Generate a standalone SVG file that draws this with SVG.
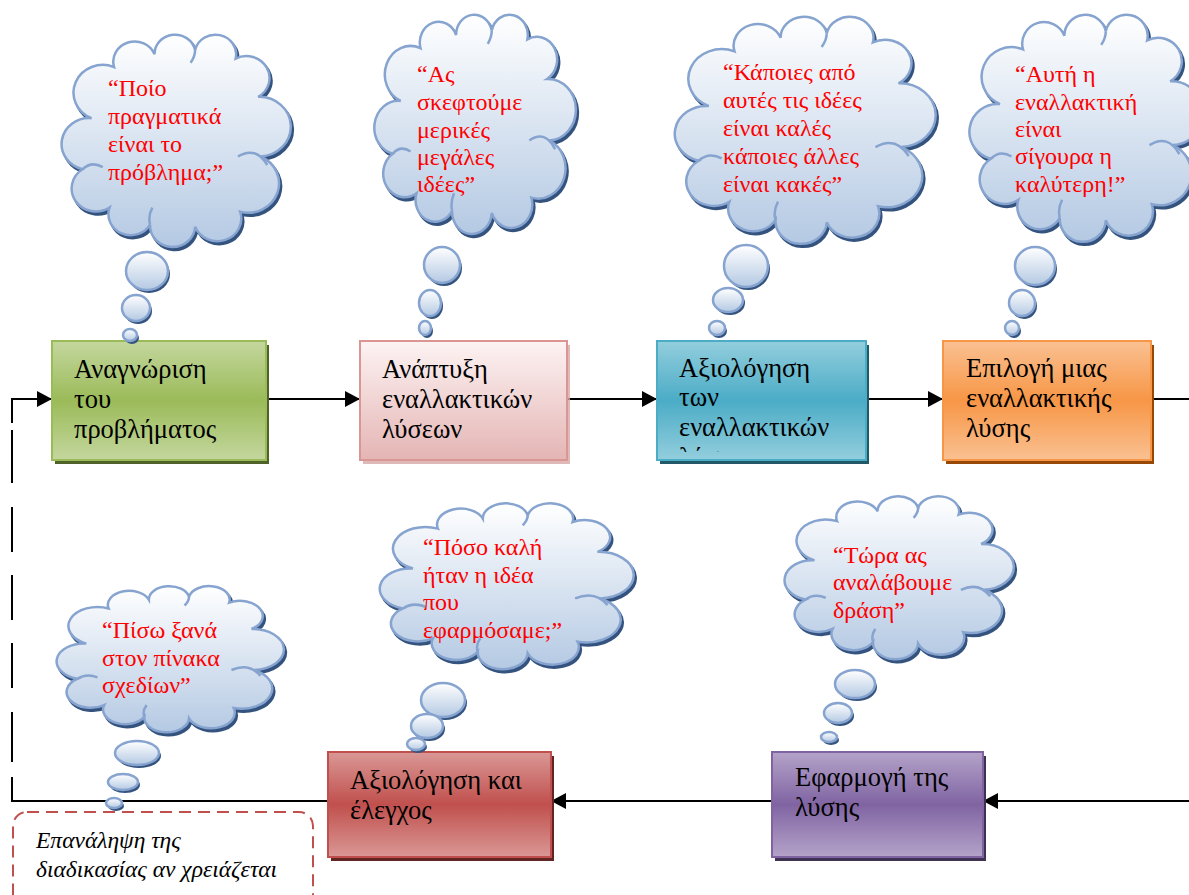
<svg xmlns="http://www.w3.org/2000/svg" xmlns:xlink="http://www.w3.org/1999/xlink" width="1189" height="895" viewBox="0 0 1189 895">
  <style>
    .box-text { font-family: "Liberation Serif", "DejaVu Serif", serif; font-size: 26.5px; fill: #000000; }
    .thought { font-family: "Liberation Serif", "DejaVu Serif", serif; font-size: 24px; fill: #ff0000; }
    .note { font-family: "Liberation Serif", "DejaVu Serif", serif; font-size: 23.5px; font-style: italic; fill: #000000; }
    .cloud-body { fill: url(#cloudFill); stroke: #86a4cf; stroke-width: 2.5; }
    .cloud-shadow { fill: #34537f; stroke: #34537f; stroke-width: 2.5; }
    .cloud-line { fill: none; stroke: #86a4cf; stroke-width: 2.5; }
    .bubble { fill: url(#cloudFill); stroke: #86a4cf; stroke-width: 2.5; }
    .bubble-shadow { fill: #34537f; }
    .link { fill: none; stroke: #000000; stroke-width: 2; }
  </style>
  <defs>
    <linearGradient id="cloudFill" x1="0" y1="0" x2="0" y2="1">
      <stop offset="0" stop-color="#ffffff"/>
      <stop offset="1" stop-color="#b4c9e3"/>
    </linearGradient>
    <linearGradient id="gGreen" x1="0" y1="0" x2="0" y2="1">
      <stop offset="0" stop-color="#c4d79e"/>
      <stop offset="0.5" stop-color="#9bbb59"/>
      <stop offset="1" stop-color="#c4d79e"/>
    </linearGradient>
    <linearGradient id="gPink" x1="0" y1="0" x2="0" y2="1">
      <stop offset="0" stop-color="#fdf3f3"/>
      <stop offset="1" stop-color="#e4b5b4"/>
    </linearGradient>
    <linearGradient id="gBlue" x1="0" y1="0" x2="0" y2="1">
      <stop offset="0" stop-color="#93cedd"/>
      <stop offset="0.5" stop-color="#4bacc6"/>
      <stop offset="1" stop-color="#93cedd"/>
    </linearGradient>
    <linearGradient id="gOrange" x1="0" y1="0" x2="0" y2="1">
      <stop offset="0" stop-color="#fac192"/>
      <stop offset="0.5" stop-color="#f79646"/>
      <stop offset="1" stop-color="#fac192"/>
    </linearGradient>
    <linearGradient id="gRed" x1="0" y1="0" x2="0" y2="1">
      <stop offset="0" stop-color="#da9896"/>
      <stop offset="0.5" stop-color="#c0504d"/>
      <stop offset="1" stop-color="#da9896"/>
    </linearGradient>
    <linearGradient id="gPurple" x1="0" y1="0" x2="0" y2="1">
      <stop offset="0" stop-color="#b4a3c9"/>
      <stop offset="0.5" stop-color="#8064a2"/>
      <stop offset="1" stop-color="#b4a3c9"/>
    </linearGradient>
    <!-- cloud outline in a unit box, scaled per callout -->
    <path id="cloudShape" vector-effect="non-scaling-stroke" d="M12,40 A13,13 0 0 1 22,16 A9.5,9.5 0 0 1 40,10 A9.1,9.1 0 0 1 58,8 A9.2,9.2 0 0 1 76,12 A10.3,10.3 0 0 1 86,30 A14,14 0 0 1 87,58 A13.8,13.8 0 0 1 78,84 A10.6,10.6 0 0 1 58,91 A10,10 0 0 1 38,90 A9.9,9.9 0 0 1 20,82 A10.8,10.8 0 0 1 8,64 A12.2,12.2 0 0 1 12,40 Z"/>
    <path id="cloudInner" vector-effect="non-scaling-stroke" d="M8,64 Q12,60 17,63 M77,58 Q85,53 90,62 M38,90 Q37,86 39,82 M58,8 Q58,11 56,14"/>
    <marker id="arrow" markerUnits="userSpaceOnUse" markerWidth="16" markerHeight="16" refX="15" refY="8" orient="auto" viewBox="0 0 16 16">
      <path d="M0,0 L15,8 L0,16 Z" fill="#000000"/>
    </marker>
    <clipPath id="clipBlue">
      <rect x="657" y="341" width="209" height="111"/>
    </clipPath>
  </defs>

  <rect width="1189" height="895" fill="#ffffff"/>

  <!-- connectors -->
  <g id="connectors">
    <path class="link" d="M266,399 H360" marker-end="url(#arrow)"/>
    <path class="link" d="M567,399 H657" marker-end="url(#arrow)"/>
    <path class="link" d="M866,399 H943" marker-end="url(#arrow)"/>
    <path class="link" d="M1151,399 H1189"/>
    <path class="link" d="M1189,801 H983" marker-end="url(#arrow)"/>
    <path class="link" d="M772,801 H551" marker-end="url(#arrow)"/>
    <path class="link" d="M328,801 H11"/>
    <!-- return loop: broken vertical run back to the first step -->
    <path class="link" d="M12,400 V423 M12,430 V483 M12,507 V552 M12,575 V620 M12,643 V688 M12,712 V762 M12,777 V801"/>
    <path class="link" d="M11,399 H52" marker-end="url(#arrow)"/>
  </g>

  <!-- process steps -->
  <g id="step-identify">
    <rect x="55" y="345" width="214" height="119" fill="#4f6228"/>
    <rect x="52" y="341" width="214" height="119" fill="url(#gGreen)" stroke="#9bbb59" stroke-width="2"/>
    <text class="box-text"><tspan x="74" y="378">Αναγνώριση</tspan><tspan x="74" y="408">του</tspan><tspan x="74" y="438">προβλήματος</tspan></text>
  </g>
  <g id="step-develop">
    <rect x="363" y="345" width="207" height="119" fill="#d6a7a6" opacity="0.8"/>
    <rect x="360" y="341" width="207" height="119" fill="url(#gPink)" stroke="#d99694" stroke-width="2"/>
    <text class="box-text"><tspan x="382" y="378">Ανάπτυξη</tspan><tspan x="382" y="408">εναλλακτικών</tspan><tspan x="382" y="438">λύσεων</tspan></text>
  </g>
  <g id="step-evaluate">
    <rect x="660" y="345" width="209" height="119" fill="#215968"/>
    <rect x="657" y="341" width="209" height="119" fill="url(#gBlue)" stroke="#4bacc6" stroke-width="2"/>
    <text class="box-text" clip-path="url(#clipBlue)"><tspan x="679" y="377">Αξιολόγηση</tspan><tspan x="679" y="406">των</tspan><tspan x="679" y="436">εναλλακτικών</tspan><tspan x="679" y="466">λύσεων</tspan></text>
  </g>
  <g id="step-choose">
    <rect x="946" y="345" width="208" height="119" fill="#974706"/>
    <rect x="943" y="341" width="208" height="119" fill="url(#gOrange)" stroke="#f79646" stroke-width="2"/>
    <text class="box-text"><tspan x="966" y="377">Επιλογή μιας</tspan><tspan x="966" y="407">εναλλακτικής</tspan><tspan x="966" y="437">λύσης</tspan></text>
  </g>
  <g id="step-implement">
    <rect x="775" y="756" width="211" height="105" fill="#3f3151"/>
    <rect x="772" y="752" width="211" height="105" fill="url(#gPurple)" stroke="#8064a2" stroke-width="2"/>
    <text class="box-text"><tspan x="795" y="786">Εφαρμογή της</tspan><tspan x="795" y="816">λύσης</tspan></text>
  </g>
  <g id="step-review">
    <rect x="331" y="756" width="223" height="105" fill="#632523"/>
    <rect x="328" y="752" width="223" height="105" fill="url(#gRed)" stroke="#c0504d" stroke-width="2"/>
    <text class="box-text"><tspan x="350" y="789">Αξιολόγηση και</tspan><tspan x="350" y="819">έλεγχος</tspan></text>
  </g>

  <!-- repeat note -->
  <g id="note-repeat">
    <rect x="13" y="812" width="300" height="100" rx="14" fill="none" stroke="#c0504d" stroke-width="2" stroke-dasharray="12 7"/>
    <text class="note"><tspan x="36" y="848">Επανάληψη της</tspan><tspan x="36" y="877">διαδικασίας αν χρειάζεται</tspan></text>
  </g>

  <!-- thought callouts -->
  <g id="thought-identify">
    <use href="#cloudShape" class="cloud-shadow" transform="translate(66.5,36) scale(2.252,2.129)"/>
    <use href="#cloudShape" class="cloud-body" transform="translate(64.5,33) scale(2.252,2.129)"/>
    <use href="#cloudInner" class="cloud-line" transform="translate(64.5,33) scale(2.252,2.129)"/>
    <ellipse class="bubble-shadow" cx="149" cy="274" rx="21" ry="19"/>
    <ellipse class="bubble" cx="147" cy="271" rx="21" ry="19"/>
    <ellipse class="bubble-shadow" cx="138" cy="311" rx="14" ry="13"/>
    <ellipse class="bubble" cx="136" cy="308" rx="14" ry="13"/>
    <ellipse class="bubble-shadow" cx="132" cy="338" rx="7" ry="6"/>
    <ellipse class="bubble" cx="130" cy="335" rx="7" ry="6"/>
    <text class="thought"><tspan x="108" y="96">“Ποίο</tspan><tspan x="108" y="124">πραγματικά</tspan><tspan x="108" y="152">είναι το</tspan><tspan x="108" y="180">πρόβλημα;”</tspan></text>
  </g>
  <g id="thought-develop">
    <use href="#cloudShape" class="cloud-shadow" transform="translate(378.9,16) scale(1.98,2.198)"/>
    <use href="#cloudShape" class="cloud-body" transform="translate(376.9,13) scale(1.98,2.198)"/>
    <use href="#cloudInner" class="cloud-line" transform="translate(376.9,13) scale(1.98,2.198)"/>
    <ellipse class="bubble-shadow" cx="444" cy="268" rx="18" ry="18"/>
    <ellipse class="bubble" cx="442" cy="265" rx="18" ry="18"/>
    <ellipse class="bubble-shadow" cx="432" cy="306" rx="11" ry="13"/>
    <ellipse class="bubble" cx="430" cy="303" rx="11" ry="13"/>
    <ellipse class="bubble-shadow" cx="427" cy="331" rx="6" ry="7"/>
    <ellipse class="bubble" cx="425" cy="328" rx="6" ry="7"/>
    <text class="thought"><tspan x="417" y="82">“Ας</tspan><tspan x="417" y="110">σκεφτούμε</tspan><tspan x="417" y="138">μερικές</tspan><tspan x="417" y="165">μεγάλες</tspan><tspan x="417" y="192">ιδέες”</tspan></text>
  </g>
  <g id="thought-evaluate">
    <use href="#cloudShape" class="cloud-shadow" transform="translate(680.1,18) scale(2.563,2.277)"/>
    <use href="#cloudShape" class="cloud-body" transform="translate(678.1,15) scale(2.563,2.277)"/>
    <use href="#cloudInner" class="cloud-line" transform="translate(678.1,15) scale(2.563,2.277)"/>
    <ellipse class="bubble-shadow" cx="748" cy="269" rx="22" ry="21"/>
    <ellipse class="bubble" cx="746" cy="266" rx="22" ry="21"/>
    <ellipse class="bubble-shadow" cx="730" cy="303" rx="15" ry="12"/>
    <ellipse class="bubble" cx="728" cy="300" rx="15" ry="12"/>
    <ellipse class="bubble-shadow" cx="719" cy="331" rx="8" ry="7"/>
    <ellipse class="bubble" cx="717" cy="328" rx="8" ry="7"/>
    <text class="thought"><tspan x="723" y="80">“Κάποιες από</tspan><tspan x="723" y="108">αυτές τις ιδέες</tspan><tspan x="723" y="136">είναι καλές</tspan><tspan x="723" y="164">κάποιες άλλες</tspan><tspan x="723" y="192">είναι κακές”</tspan></text>
  </g>
  <g id="thought-choose">
    <use href="#cloudShape" class="cloud-shadow" transform="translate(974.4,16) scale(2.3,2.277)"/>
    <use href="#cloudShape" class="cloud-body" transform="translate(972.4,13) scale(2.3,2.277)"/>
    <use href="#cloudInner" class="cloud-line" transform="translate(972.4,13) scale(2.3,2.277)"/>
    <ellipse class="bubble-shadow" cx="1037" cy="269" rx="20" ry="19"/>
    <ellipse class="bubble" cx="1035" cy="266" rx="20" ry="19"/>
    <ellipse class="bubble-shadow" cx="1024" cy="306" rx="13" ry="13"/>
    <ellipse class="bubble" cx="1022" cy="303" rx="13" ry="13"/>
    <ellipse class="bubble-shadow" cx="1014" cy="331" rx="7" ry="7"/>
    <ellipse class="bubble" cx="1012" cy="328" rx="7" ry="7"/>
    <text class="thought"><tspan x="1015" y="82">“Αυτή η</tspan><tspan x="1015" y="110">εναλλακτική</tspan><tspan x="1015" y="137">είναι</tspan><tspan x="1015" y="164">σίγουρα η</tspan><tspan x="1015" y="192">καλύτερη!”</tspan></text>
  </g>
  <g id="thought-review">
    <use href="#cloudShape" class="cloud-shadow" transform="translate(385,505) scale(2.495,1.663)"/>
    <use href="#cloudShape" class="cloud-body" transform="translate(383,502) scale(2.495,1.663)"/>
    <use href="#cloudInner" class="cloud-line" transform="translate(383,502) scale(2.495,1.663)"/>
    <ellipse class="bubble-shadow" cx="445" cy="703" rx="22" ry="17"/>
    <ellipse class="bubble" cx="443" cy="700" rx="22" ry="17"/>
    <ellipse class="bubble-shadow" cx="429" cy="729" rx="16" ry="12"/>
    <ellipse class="bubble" cx="427" cy="726" rx="16" ry="12"/>
    <ellipse class="bubble-shadow" cx="418" cy="747" rx="9" ry="6"/>
    <ellipse class="bubble" cx="416" cy="744" rx="9" ry="6"/>
    <text class="thought"><tspan x="423" y="555">“Πόσο καλή</tspan><tspan x="423" y="583">ήταν η ιδέα</tspan><tspan x="423" y="610">που</tspan><tspan x="423" y="638">εφαρμόσαμε;”</tspan></text>
  </g>
  <g id="thought-implement">
    <use href="#cloudShape" class="cloud-shadow" transform="translate(789.5,498) scale(2.252,1.634)"/>
    <use href="#cloudShape" class="cloud-body" transform="translate(787.5,495) scale(2.252,1.634)"/>
    <use href="#cloudInner" class="cloud-line" transform="translate(787.5,495) scale(2.252,1.634)"/>
    <ellipse class="bubble-shadow" cx="857" cy="687" rx="20" ry="14"/>
    <ellipse class="bubble" cx="855" cy="684" rx="20" ry="14"/>
    <ellipse class="bubble-shadow" cx="840" cy="716" rx="14" ry="10"/>
    <ellipse class="bubble" cx="838" cy="713" rx="14" ry="10"/>
    <ellipse class="bubble-shadow" cx="831" cy="740" rx="8" ry="5"/>
    <ellipse class="bubble" cx="829" cy="737" rx="8" ry="5"/>
    <text class="thought"><tspan x="833" y="563">“Τώρα ας</tspan><tspan x="833" y="590">αναλάβουμε</tspan><tspan x="833" y="618">δράση”</tspan></text>
  </g>
  <g id="thought-repeat">
    <use href="#cloudShape" class="cloud-shadow" transform="translate(61.5,588) scale(2.233,1.465)"/>
    <use href="#cloudShape" class="cloud-body" transform="translate(59.5,585) scale(2.233,1.465)"/>
    <use href="#cloudInner" class="cloud-line" transform="translate(59.5,585) scale(2.233,1.465)"/>
    <ellipse class="bubble-shadow" cx="139" cy="756" rx="22" ry="12"/>
    <ellipse class="bubble" cx="137" cy="753" rx="22" ry="12"/>
    <ellipse class="bubble-shadow" cx="125" cy="785" rx="15" ry="8"/>
    <ellipse class="bubble" cx="123" cy="782" rx="15" ry="8"/>
    <ellipse class="bubble-shadow" cx="116" cy="806" rx="8" ry="5"/>
    <ellipse class="bubble" cx="114" cy="803" rx="8" ry="5"/>
    <text class="thought"><tspan x="102" y="638">“Πίσω ξανά</tspan><tspan x="102" y="666">στον πίνακα</tspan><tspan x="102" y="693">σχεδίων”</tspan></text>
  </g>
</svg>
